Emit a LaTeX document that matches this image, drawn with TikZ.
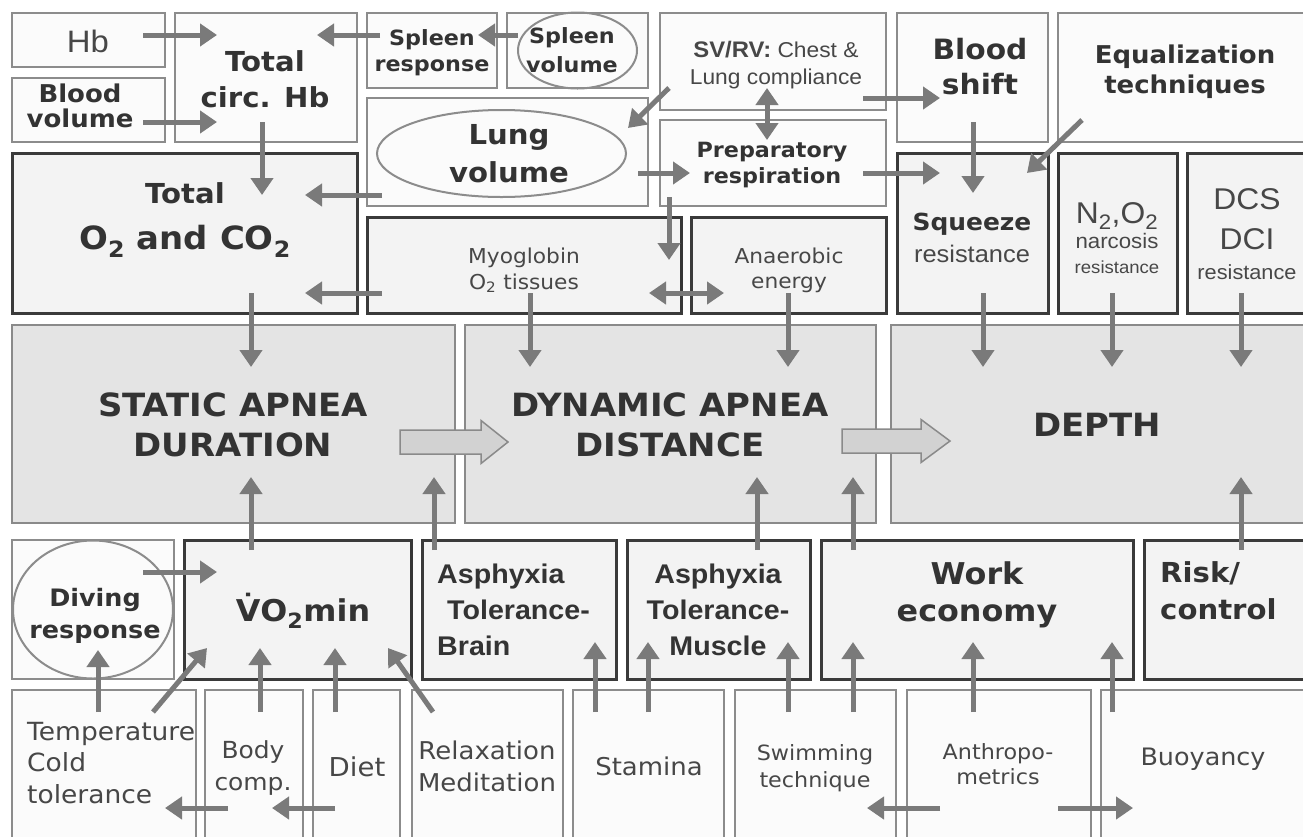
\documentclass[tikz,border=0pt]{standalone}
\usepackage{fontspec}
\setmainfont{DejaVu Sans}[FakeStretch=1.06]
\newfontfamily\arial{Liberation Sans}[FakeStretch=1.06]
\usetikzlibrary{arrows.meta,fit,shapes.geometric,calc}
\definecolor{lline}{HTML}{8C8C8C}
\definecolor{dline}{HTML}{3A3A3A}
\definecolor{mline}{HTML}{8A8A8A}
\definecolor{lfill}{HTML}{FBFBFB}
\definecolor{dfill}{HTML}{F3F3F3}
\definecolor{mfill}{HTML}{E4E4E4}
\definecolor{fatfill}{HTML}{D2D2D2}
\definecolor{agray}{HTML}{7A7A7A}
\definecolor{tdark}{HTML}{333333}
\definecolor{treg}{HTML}{474747}
\newcommand\fs[2]{\fontsize{#1pt}{#2pt}\selectfont}
\begin{document}
\begin{tikzpicture}[x=1pt,y=-1pt,
  lbox/.style={draw=lline,line width=1.8pt,fill=lfill,inner sep=0pt,outer sep=0pt},
  dbox/.style={draw=dline,line width=3pt,fill=dfill,inner sep=0pt,outer sep=0pt},
  mbox/.style={draw=mline,line width=2pt,fill=mfill,inner sep=0pt,outer sep=0pt},
  oval/.style={ellipse,draw=lline,line width=2pt,inner sep=0pt},
  tb/.style 2 args={inner sep=0pt,align=center,text=tdark,font=\bfseries\fs{#1}{#2}},
  tr/.style 2 args={inner sep=0pt,align=center,text=treg,font=\fs{#1}{#2}},
  arr/.style={draw=agray,line width=5pt,-{Triangle[width=22pt,length=17pt]}},
  darr/.style={draw=agray,line width=5pt,{Triangle[width=22pt,length=17pt]}-{Triangle[width=22pt,length=17pt]}},
  fat/.style={fill=fatfill,draw=mline,line width=1.5pt}]
\useasboundingbox (0,0) rectangle (1303,836);
\clip (0,0) rectangle (1303,836);
\fill[white] (0,0) rectangle (1303,836);
% boxes
\node[lbox,fit={(12,13)(165,67)}] (hb) {};
\node[lbox,fit={(12,78)(165,142)}] (bv) {};
\node[lbox,fit={(175,13)(357,142)}] (thb) {};
\node[lbox,fit={(367,13)(497,88)}] (spr) {};
\node[lbox,fit={(507,13)(648,88)}] (spv) {};
\node[lbox,fit={(660,13)(886,110)}] (svrv) {};
\node[lbox,fit={(897,13)(1048,142)}] (bsh) {};
\node[lbox,fit={(1058,13)(1320,142)}] (equ) {};
\node[lbox,fit={(367,98)(648,206)}] (lung) {};
\node[lbox,fit={(660,120)(886,206)}] (prep) {};
\node[dbox,fit={(12,153)(357,313)}] (to2) {};
\node[dbox,fit={(367,217)(681,313)}] (myo) {};
\node[dbox,fit={(691,217)(886,313)}] (ana) {};
\node[dbox,fit={(897,153)(1048,313)}] (sqz) {};
\node[dbox,fit={(1058,153)(1177,313)}] (nar) {};
\node[dbox,fit={(1187,153)(1320,313)}] (dcs) {};
\node[mbox,fit={(12,325)(455,523)}] (sta) {};
\node[mbox,fit={(465,325)(876,523)}] (dyn) {};
\node[mbox,fit={(891,325)(1320,523)}] (dep) {};
\node[lbox,fit={(12,540)(174,679)}] (div) {};
\node[dbox,fit={(184,540)(411,679)}] (vo2) {};
\node[dbox,fit={(422,540)(616,679)}] (asb) {};
\node[dbox,fit={(627,540)(810,679)}] (asm) {};
\node[dbox,fit={(821,540)(1133,679)}] (wrk) {};
\node[dbox,fit={(1144,540)(1320,679)}] (rsk) {};
\node[lbox,fit={(12,690)(196,850)}] (tmp) {};
\node[lbox,fit={(205,690)(303,850)}] (bdy) {};
\node[lbox,fit={(313,690)(400,850)}] (dit) {};
\node[lbox,fit={(412,690)(563,850)}] (rlx) {};
\node[lbox,fit={(573,690)(724,850)}] (stm) {};
\node[lbox,fit={(735,690)(896,850)}] (swm) {};
\node[lbox,fit={(907,690)(1091,850)}] (ant) {};
\node[lbox,fit={(1101,690)(1320,850)}] (buo) {};
% ovals
\node[oval,minimum width=119pt,minimum height=76pt] (spv-o) at (577.5,50.5) {};
\node[oval,minimum width=249pt,minimum height=87pt] (lung-o) at (501.5,153.5) {};
\node[oval,minimum width=160pt,minimum height=138pt] (div-o) at (93,609.5) {};
% fat arrows
\coordinate (fa) at ($(sta.north west)+(388,117)$);
\filldraw[fat] (fa) ++(0,-12) -- ++(81,0) -- ++(0,-9.5) -- ++(27,21.5) -- ++(-27,21.5) -- ++(0,-9.5) -- ++(-81,0) -- cycle;
\coordinate (fb) at ($(dyn.north west)+(377,116)$);
\filldraw[fat] (fb) ++(0,-12) -- ++(79,0) -- ++(0,-9.5) -- ++(29,21.5) -- ++(-29,21.5) -- ++(0,-9.5) -- ++(-79,0) -- cycle;
% texts
\node[tr={31}{36},font=\arial\fs{31}{36}] (hb-t) at (88,41.5) {Hb};
\node[tb={24.5}{25}] (bv-t) at (80,106) {Blood\\volume};
\node[tb={27.5}{36}] (thb-t) at (265,79) {Total\\circ. Hb};
\node[tb={27.5}{46}] (to2-t) at (185,220) {Total\\{\fs{32}{46}O\textsubscript{2} and CO\textsubscript{2}}};
\node[tb={21}{26}] (spr-t) at (432,53) {Spleen\\response};
\node[tb={21}{29}] (spv-t) at (572,50) {Spleen\\volume};
\node[tr={21.5}{27},font=\arial\fs{21.5}{27}] (svrv-t) at (776,65) {{\bfseries\fs{22.5}{27}SV/RV:} Chest \&\\Lung compliance};
\node[tb={28}{35}] (bsh-t) at (980,67) {Blood\\shift};
\node[tb={24.5}{30}] (equ-t) at (1185,72) {Equalization\\techniques};
\node[tb={27.5}{38}] (lung-t) at (509,154) {Lung\\volume};
\node[tb={21}{26}] (prep-t) at (772,165) {Preparatory\\respiration};
\node[tr={20.5}{26}] (myo-t) at (524,270) {Myoglobin\\O\textsubscript{2} tissues};
\node[tr={20.5}{25}] (ana-t) at (789,270) {Anaerobic\\energy};
\node[tb={23.5}{32}] (sqz-t) at (972,238) {Squeeze\\{\mdseries\arial\fs{24}{32}\color{treg}resistance}};
\node[tr={30}{25},font=\arial\fs{30}{25}] (nar-t) at (1117,238) {N\textsubscript{2},O\textsubscript{2}\\{\fs{21}{25}narcosis}\\{\fs{17.5}{25}resistance}};
\node[tr={30}{40},font=\arial\fs{30}{40}] (dcs-t) at (1247,234) {DCS\\DCI\\[-10pt]{\fs{20.5}{30}resistance}};
\node[tb={32}{40}] (sta-t) at (233,425) {STATIC APNEA\\DURATION};
\node[tb={32}{40}] (dyn-t) at (670,425) {DYNAMIC APNEA\\DISTANCE};
\node[tb={32}{40}] (dep-t) at (1097,425) {DEPTH};
\node[tb={24}{32}] (div-t) at (95,616) {Diving\\response};
\node[tb={30}{36}] (vo2-t) at (303,611) {\.{V}O\textsubscript{2}min};
\node[tb={27}{36},font=\arial\bfseries\fs{27}{36},align=left,anchor=west] (asb-t) at (437,610) {Asphyxia\\\hspace*{10pt}Tolerance-\\Brain};
\node[tb={27}{36},font=\arial\bfseries\fs{27}{36}] (asm-t) at (718,610) {Asphyxia\\Tolerance-\\Muscle};
\node[tb={30}{37}] (wrk-t) at (977,595) {Work\\economy};
\node[tb={27.5}{37},align=left,anchor=west] (rsk-t) at (1160,591) {Risk/\\control};
\node[tr={25}{31.5},align=left,anchor=west] (tmp-t) at (27,763) {Temperature\\Cold\\tolerance};
\node[tr={23.5}{32}] (bdy-t) at (253,768) {Body\\comp.};
\node[tr={26}{30}] (dit-t) at (357,767) {Diet};
\node[tr={24.5}{32}] (rlx-t) at (487,766) {Relaxation\\Meditation};
\node[tr={24.5}{30}] (stm-t) at (649,766) {Stamina};
\node[tr={21}{27}] (swm-t) at (815,768) {Swimming\\technique};
\node[tr={21}{25}] (ant-t) at (998,764) {Anthropo-\\metrics};
\node[tr={24}{30}] (buo-t) at (1203,759) {Buoyancy};
% arrows - top block
\draw[arr] ($(hb.north west)+(131,22)$) -- ($(thb.north west)+(42,22)$);
\draw[arr] ($(bv.north west)+(131,44)$) -- ($(thb.north west)+(42,109)$);
\draw[arr] ($(spr.north west)+(13,22)$) -- ($(thb.north west)+(142,22)$);
\draw[arr] ($(spv.north west)+(11,22)$) -- ($(spr.north west)+(111,22)$);
\draw[arr] ($(thb.north west)+(87,109)$) -- ($(to2.north west)+(250,42)$);
\draw[arr] ($(lung.north west)+(15,97)$) -- ($(to2.north west)+(293,42)$);
\draw[arr] ($(myo.north west)+(15,76)$) -- ($(to2.north west)+(293,140)$);
\draw[arr] ($(svrv.north west)+(9,75)$) -- ($(lung.north west)+(261,30)$);
\draw[darr] ($(svrv.north west)+(107,75)$) -- ($(prep.north west)+(107,20)$);
\draw[arr] ($(lung.north west)+(271,75)$) -- ($(prep.north west)+(30,53)$);
\draw[arr] ($(prep.north west)+(9,77)$) -- ($(myo.north west)+(302,43)$);
\draw[darr] ($(myo.north west)+(282,76)$) -- ($(ana.north west)+(33,76)$);
\draw[arr] ($(svrv.north west)+(203,85)$) -- ($(bsh.north west)+(43,85)$);
\draw[arr] ($(prep.north west)+(203,53)$) -- ($(sqz.north west)+(43,20)$);
\draw[arr] ($(bsh.north west)+(76,109)$) -- ($(sqz.north west)+(76,40)$);
\draw[arr] ($(equ.north west)+(24,107)$) -- ($(sqz.north west)+(130,20)$);
% into the middle row
\draw[arr] ($(to2.north west)+(239,140)$) -- ($(sta.north west)+(239,42)$);
\draw[arr] ($(myo.north west)+(163,76)$) -- ($(dyn.north west)+(65,42)$);
\draw[arr] ($(ana.north west)+(97,76)$) -- ($(dyn.north west)+(323,42)$);
\draw[arr] ($(sqz.north west)+(86,140)$) -- ($(dep.north west)+(92,42)$);
\draw[arr] ($(nar.north west)+(54,140)$) -- ($(dep.north west)+(221,42)$);
\draw[arr] ($(dcs.north west)+(54,140)$) -- ($(dep.north west)+(350,42)$);
\draw[arr] ($(vo2.north west)+(67,10)$) -- ($(sta.north west)+(239,152)$);
\draw[arr] ($(asb.north west)+(12,10)$) -- ($(sta.north west)+(422,152)$);
\draw[arr] ($(asm.north west)+(130,10)$) -- ($(dyn.north west)+(292,152)$);
\draw[arr] ($(wrk.north west)+(32,10)$) -- ($(dyn.north west)+(388,152)$);
\draw[arr] ($(rsk.north west)+(97,10)$) -- ($(dep.north west)+(350,152)$);
% bottom block
\draw[arr] ($(div.north west)+(131,32)$) -- ($(vo2.north west)+(33,32)$);
\draw[arr] ($(tmp.north west)+(86,22)$) -- ($(div.north west)+(86,110)$);
\draw[arr] ($(tmp.north west)+(141,22)$) -- ($(vo2.north west)+(23,108)$);
\draw[arr] ($(bdy.north west)+(55,22)$) -- ($(vo2.north west)+(76,108)$);
\draw[arr] ($(dit.north west)+(22,22)$) -- ($(vo2.north west)+(151,108)$);
\draw[arr] ($(rlx.north west)+(21,22)$) -- ($(vo2.north west)+(204,108)$);
\draw[arr] ($(stm.north west)+(22,22)$) -- ($(asb.north west)+(173,102)$);
\draw[arr] ($(stm.north west)+(75,22)$) -- ($(asm.north west)+(21,102)$);
\draw[arr] ($(swm.north west)+(53,22)$) -- ($(asm.north west)+(161,102)$);
\draw[arr] ($(swm.north west)+(118,22)$) -- ($(wrk.north west)+(32,102)$);
\draw[arr] ($(ant.north west)+(66,22)$) -- ($(wrk.north west)+(152,102)$);
\draw[arr] ($(buo.north west)+(11,22)$) -- ($(wrk.north west)+(291,102)$);
\draw[arr] ($(bdy.north west)+(23,118)$) -- ($(tmp.north west)+(153,118)$);
\draw[arr] ($(dit.north west)+(22,118)$) -- ($(bdy.north west)+(67,118)$);
\draw[arr] ($(ant.north west)+(33,118)$) -- ($(swm.north west)+(132,118)$);
\draw[arr] ($(ant.north west)+(151,118)$) -- ($(buo.north west)+(32,118)$);
\end{tikzpicture}
\end{document}
